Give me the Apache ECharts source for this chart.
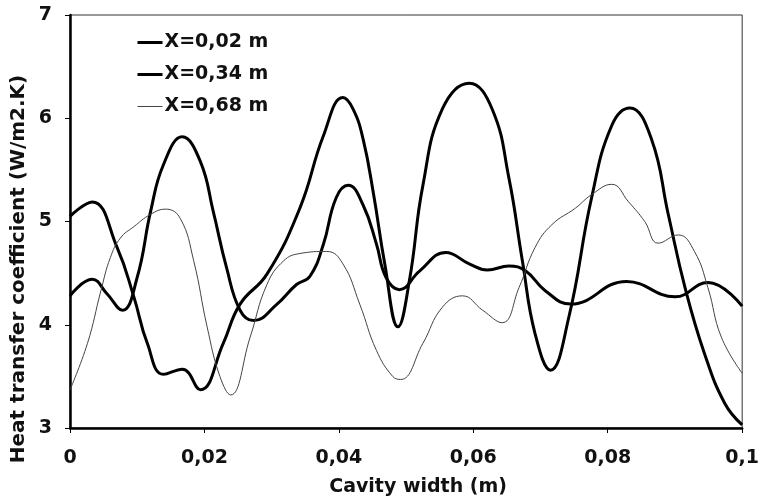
<!DOCTYPE html>
<html>
<head>
<meta charset="utf-8">
<script src="https://cdn.jsdelivr.net/npm/echarts@6/dist/echarts.min.js"></script>
<style>html,body{margin:0;padding:0;background:#fff}#c{width:762px;height:502px}</style>
</head>
<body>
<div id="c"></div>
<script>
const seriesNames = ['X=0,02 m', 'X=0,34 m', 'X=0,68 m'];
const xTicks = [0, 0.02, 0.04, 0.06, 0.08, 0.1];
const yTicks = [3, 4, 5, 6, 7];

const xA = [0, 0.0033, 0.007, 0.0095, 0.0115, 0.0139, 0.0167, 0.0194, 0.0228, 0.0253, 0.0293, 0.0342, 0.0377, 0.0406, 0.0421, 0.0436, 0.0452, 0.0468, 0.0488, 0.0505, 0.0525, 0.0554, 0.0594, 0.0628, 0.0653, 0.0673, 0.0692, 0.0715, 0.0742, 0.0776, 0.0806, 0.0833, 0.0865, 0.089, 0.0915, 0.0944, 0.0974, 0.1];
const yA = [5.05, 5.19, 4.75, 4.27, 3.82, 3.52, 3.57, 3.37, 3.82, 4.2, 4.49, 5.13, 5.83, 6.2, 6.09, 5.8, 5.25, 4.6, 3.98, 4.43, 5.35, 6.09, 6.34, 6.09, 5.42, 4.62, 3.91, 3.56, 4.07, 5.23, 5.93, 6.1, 5.8, 5.07, 4.36, 3.72, 3.24, 3.03];

const xB = [0, 0.0033, 0.0055, 0.0078, 0.01, 0.012, 0.0139, 0.0167, 0.0194, 0.0213, 0.0233, 0.0253, 0.0273, 0.0308, 0.0337, 0.0357, 0.0377, 0.0396, 0.0414, 0.0436, 0.0456, 0.047, 0.049, 0.052, 0.0559, 0.0594, 0.0621, 0.0653, 0.0678, 0.0707, 0.0745, 0.0828, 0.09, 0.0949, 0.1];
const yB = [4.28, 4.44, 4.3, 4.14, 4.46, 5.1, 5.55, 5.82, 5.58, 5.1, 4.55, 4.14, 4.04, 4.2, 4.39, 4.47, 4.78, 5.23, 5.35, 5.16, 4.78, 4.46, 4.34, 4.52, 4.7, 4.59, 4.53, 4.57, 4.52, 4.33, 4.2, 4.42, 4.27, 4.41, 4.18];

const xC = [0, 0.0026, 0.0046, 0.006, 0.0075, 0.0095, 0.012, 0.0142, 0.0164, 0.0184, 0.0204, 0.0223, 0.0239, 0.0268, 0.0293, 0.0318, 0.0342, 0.0382, 0.0406, 0.0431, 0.0456, 0.048, 0.0492, 0.0525, 0.0554, 0.0584, 0.0614, 0.0643, 0.0668, 0.0692, 0.0717, 0.0752, 0.0776, 0.0806, 0.0831, 0.0855, 0.0875, 0.0905, 0.0929, 0.0949, 0.0969, 0.1];
const yC = [3.37, 3.82, 4.33, 4.65, 4.84, 4.95, 5.07, 5.12, 5.03, 4.62, 3.98, 3.5, 3.32, 3.88, 4.39, 4.62, 4.69, 4.71, 4.59, 4.2, 3.75, 3.5, 3.47, 3.82, 4.17, 4.28, 4.14, 4.02, 4.36, 4.75, 4.97, 5.13, 5.26, 5.36, 5.19, 5.0, 4.79, 4.87, 4.71, 4.36, 3.88, 3.53];

const pairs = (xs, ys) => xs.map((x, i) => [x, ys[i]]);
const FONT = '"DejaVu Sans", Verdana, sans-serif';

const chart = echarts.init(document.getElementById('c'), null, {renderer: 'canvas'});
chart.setOption({
  animation: false,
  backgroundColor: '#fff',
  grid: {left: 70, right: 16, top: 15, bottom: 70, show: true, borderColor: '#333', borderWidth: 1, backgroundColor: 'transparent'},
  xAxis: {
    type: 'value', min: xTicks[0], max: xTicks[xTicks.length - 1], interval: 0.02,
    name: 'Cavity width (m)', nameLocation: 'middle', nameGap: 50,
    nameTextStyle: {fontFamily: FONT, fontWeight: 'bold', fontSize: 19, color: '#111', padding: [0, 0, 0, 24]},
    axisLine: {show: true, lineStyle: {color: '#000', width: 2.5}},
    axisTick: {show: true, length: 5, lineStyle: {color: '#000', width: 1}},
    axisLabel: {margin: 21, fontFamily: FONT, fontWeight: 'bold', fontSize: 19, color: '#111',
      formatter: v => String(+v.toFixed(2)).replace('.', ',')},
    splitLine: {show: false}
  },
  yAxis: {
    type: 'value', min: yTicks[0], max: yTicks[yTicks.length - 1], interval: 1,
    axisLine: {show: true, lineStyle: {color: '#000', width: 2.5}},
    axisTick: {show: true, length: 5, lineStyle: {color: '#000', width: 1}},
    axisLabel: {margin: 18, fontFamily: FONT, fontWeight: 'bold', fontSize: 19, color: '#111'},
    splitLine: {show: false}
  },
  graphic: [{
    type: 'text', x: 19, y: 269, rotation: Math.PI / 2,
    style: {text: 'Heat transfer coefficient (W/m2.K)', font: 'bold 20px ' + FONT, fill: '#111', textAlign: 'center', textVerticalAlign: 'middle'}
  }],
  legend: {
    orient: 'vertical', left: 131, top: 28, itemGap: 13, itemWidth: 25, itemHeight: 14,
    itemStyle: {color: 'transparent', borderColor: 'transparent', borderWidth: 0},
    lineStyle: {width: 'inherit'},
    textStyle: {fontFamily: FONT, fontWeight: 'bold', fontSize: 19, color: '#111', padding: [0, 0, 0, -3]},
    data: seriesNames
  },
  series: [
    {name: seriesNames[0], type: 'line', data: pairs(xA, yA), smooth: 0.45, symbol: 'none', lineStyle: {color: '#000', width: 3}, itemStyle: {color: '#000'}},
    {name: seriesNames[1], type: 'line', data: pairs(xB, yB), smooth: 0.45, symbol: 'none', lineStyle: {color: '#000', width: 3}, itemStyle: {color: '#000'}},
    {name: seriesNames[2], type: 'line', data: pairs(xC, yC), smooth: 0.45, symbol: 'none', lineStyle: {color: '#444', width: 1}, itemStyle: {color: '#444'}}
  ]
});
</script>
</body>
</html>
